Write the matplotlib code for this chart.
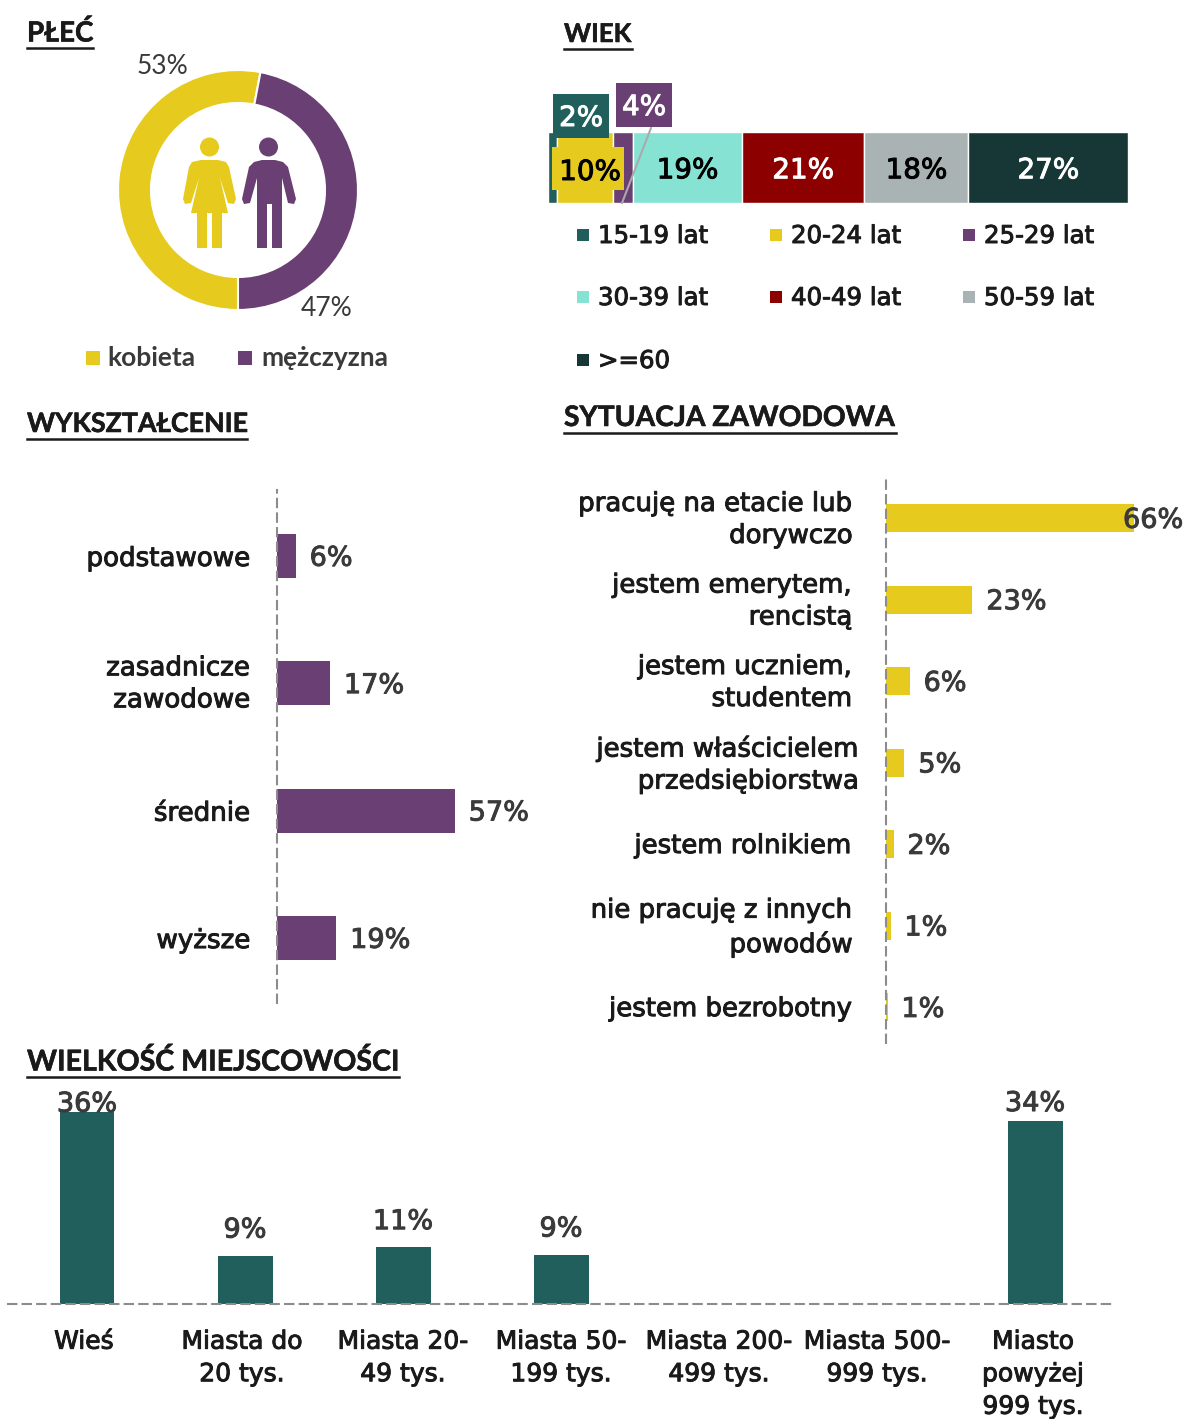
import matplotlib
matplotlib.use('Agg')
import matplotlib.pyplot as plt
import matplotlib.patheffects as pe
from matplotlib.patches import Circle, Polygon, Rectangle
from matplotlib.transforms import ScaledTranslation

W, H = 1186, 1419

YELLOW = '#E6CB1E'
PURPLE = '#6A3F73'
TEAL = '#215F5D'
DASH = '#8C8C8C'
DARK = '#1A1A1A'
GREY_TEXT = '#3A3A3A'

sex_labels = ['kobieta', 'mężczyzna']
sex_values = [53, 47]

age_labels = ['15-19 lat', '20-24 lat', '25-29 lat', '30-39 lat', '40-49 lat', '50-59 lat', '>=60']
age_values = [1.5, 9.7, 3.4, 18.7, 21, 17.9, 27.4]
age_text = ['2%', '10%', '4%', '19%', '21%', '18%', '27%']
age_colors = [TEAL, YELLOW, PURPLE, '#86E3D3', '#8C0000', '#A9B3B3', '#173636']

edu_labels = ['podstawowe', 'zasadnicze\nzawodowe', 'średnie', 'wyższe']
edu_values = [6, 17, 57, 19]

job_labels = ['pracuję na etacie lub\ndorywczo', 'jestem emerytem,\nrencistą', 'jestem uczniem,\nstudentem',
              'jestem właścicielem\nprzedsiębiorstwa', 'jestem rolnikiem', 'nie pracuję z innych\npowodów',
              'jestem bezrobotny']
job_values = [66, 23, 6.3, 4.9, 2, 1.2, 0.4]
job_text = ['66%', '23%', '6%', '5%', '2%', '1%', '1%']

city_labels = ['Wieś', 'Miasta do\n20 tys.', 'Miasta 20-\n49 tys.', 'Miasta 50-\n199 tys.',
               'Miasta 200-\n499 tys.', 'Miasta 500-\n999 tys.', 'Miasto\npowyżej\n999 tys.']
city_values = [36, 9, 10.7, 9.2, 0, 0, 34.3]
city_text = ['36%', '9%', '11%', '9%', '', '', '34%']

plt.rcParams['font.family'] = ['Lato', 'DejaVu Sans']
GEO = dict(family=['DejaVu Sans'], color=DARK)

fig = plt.figure(figsize=(W / 100, H / 100), dpi=100, facecolor='white')


def panel(x0, y0, x1, y1):
    ''' axes from a pixel box, y measured from the top '''
    return fig.add_axes([x0 / W, 1 - y1 / H, (x1 - x0) / W, (y1 - y0) / H])


def heavy(texts, lw=0.7):
    ''' DejaVu regular is too thin against the original, thicken with a stroke '''
    for t in texts:
        t.set_path_effects([pe.withStroke(linewidth=lw, foreground=t.get_color())])


def nudge(label, dx, dy=0):
    ''' shift a tick label by dx, dy pixels (dy up) '''
    label.set_transform(label.get_transform() + ScaledTranslation(dx / 100, dy / 100, fig.dpi_scale_trans))


def dashed_spine(ax, side):
    for s in ['top', 'right', 'bottom', 'left']:
        ax.spines[s].set_visible(s == side)
    ax.spines[side].set_linestyle((0, (4, 3)))
    ax.spines[side].set_color(DASH)
    ax.spines[side].set_linewidth(1.5)
    ax.patch.set_alpha(0)


# overlay in pixel coords for titles, legends, icons
over = fig.add_axes([0, 0, 1, 1], zorder=5)
over.set_xlim(0, W)
over.set_ylim(H, 0)
over.axis('off')
over.patch.set_alpha(0)


def title(x, y, s, size=20):
    t = over.text(x, y, s, fontsize=size, weight='bold', color=DARK, va='center', ha='left')
    heavy([t], lw=0.4)
    box = t.get_window_extent(fig.canvas.get_renderer())
    over.plot([x, x + box.width], [y + 15, y + 15], color=DARK, lw=1.8)


title(27, 33, 'PŁEĆ')
title(564, 34, 'WIEK', 18.6)
title(27, 424, 'WYKSZTAŁCENIE', 19.3)
title(564, 418, 'SYTUACJA ZAWODOWA', 20.3)
title(27, 1062, 'WIELKOŚĆ MIEJSCOWOŚCI', 20.6)

# donut
ax = panel(118, 70, 358, 310)
ax.pie(sex_values, colors=[YELLOW, PURPLE], startangle=270, counterclock=False, radius=1,
       wedgeprops=dict(width=0.275, edgecolor='white', linewidth=1.5))
ax.set_xlim(-1, 1)
ax.set_ylim(-1, 1)
over.text(162, 67, '%d%%' % sex_values[0], fontsize=19, color=GREY_TEXT, ha='center', va='center')
over.text(327, 309, '%d%%' % sex_values[1], fontsize=19, color=GREY_TEXT, ha='center', va='center')

# people icons in the middle of the donut
over.add_patch(Circle((209.5, 147), 9.5, color=YELLOW, lw=0))
over.add_patch(Polygon([(201, 160), (218, 160), (226, 162), (229, 167), (236, 199), (234, 204), (228, 203),
                        (220, 178), (228, 213), (222, 213), (222, 248), (212, 248), (212, 213), (207, 213),
                        (207, 248), (197, 248), (197, 213), (191, 213), (199, 178), (191, 203), (185, 204),
                        (183, 199), (189, 167), (192, 162)], color=YELLOW, lw=0))
over.add_patch(Circle((268.5, 147), 9.5, color=PURPLE, lw=0))
over.add_patch(Polygon([(262, 160), (275, 160), (283, 162), (288, 167), (296, 199), (294, 204), (288, 203),
                        (282, 178), (282, 248), (272, 248), (272, 204), (267, 204), (267, 248), (257, 248),
                        (257, 178), (250, 203), (244, 204), (242, 199), (249, 167), (254, 162)],
                       color=PURPLE, lw=0))

for x_sq, x_txt, name, col in zip([93, 245], [107, 261], sex_labels, [YELLOW, PURPLE]):
    over.scatter([x_sq], [358], marker='s', s=88, color=col, lw=0)
    over.text(x_txt, 358, name, fontsize=19, weight='bold', color=GREY_TEXT, va='center')

# stacked age bar
ax = panel(548, 132, 1128, 203)
left = 0
text_colors = [None, None, None, 'black', 'white', 'black', 'white']
for i, (val, col) in enumerate(zip(age_values, age_colors)):
    ax.barh(0, val, left=left, height=1, color=col, edgecolor='white', linewidth=1)
    if i >= 3:
        heavy([ax.annotate(age_text[i], (left + val / 2, 0), xytext=(0, -2), textcoords='offset points',
                           ha='center', va='center', family=['DejaVu Sans'], fontsize=20,
                           color=text_colors[i])])
    left += val
ax.set_xlim(0, sum(age_values))
ax.set_ylim(-0.5, 0.5)
ax.axis('off')

over.plot([651, 622], [128, 203], color='#AAAAAA', lw=1.5, zorder=1)
over.add_patch(Rectangle((553, 94), 56, 44, color=TEAL, lw=0, zorder=2))
over.add_patch(Rectangle((616, 83), 56, 44, color=PURPLE, lw=0, zorder=2))
over.add_patch(Rectangle((552, 147), 72, 43, color=YELLOW, lw=0, zorder=3))
heavy([over.text(581, 118, age_text[0], fontsize=20, family=['DejaVu Sans'], color='white', ha='center',
                 va='center', zorder=4),
       over.text(644, 107, age_text[2], fontsize=20, family=['DejaVu Sans'], color='white', ha='center',
                 va='center', zorder=4),
       over.text(590, 172, age_text[1], fontsize=20, family=['DejaVu Sans'], color='black', ha='center',
                 va='center', zorder=4)])

legend_x = [583, 776, 969]
legend_y = [235, 297, 360]
for i, name in enumerate(age_labels):
    lx = legend_x[i % 3]
    ly = legend_y[i // 3]
    over.scatter([lx], [ly], marker='s', s=70, color=age_colors[i], lw=0)
    heavy([over.text(lx + 15, ly + 1, name, va='center', fontsize=17.6, **GEO)])

# education bars
ax = panel(277, 490, 540, 1003)
edu_pos = list(range(len(edu_values)))
bars = ax.barh(edu_pos, edu_values, height=0.346, color=PURPLE)
ax.set_xlim(0, 84.3)
ax.set_ylim(3.51, -0.518)
ax.set_yticks(edu_pos, edu_labels, ha='right', linespacing=1.3, fontsize=18.8, **GEO)
ax.tick_params(axis='y', length=0, pad=19)
ax.set_xticks([])
dashed_spine(ax, 'left')
heavy(ax.get_yticklabels())
nudge(ax.get_yticklabels()[1], 0, 5)
for pos, val in zip(edu_pos, edu_values):
    heavy([ax.annotate('%d%%' % val, (val, pos), xytext=(10, -2), textcoords='offset points', va='center',
                       family=['DejaVu Sans'], fontsize=19.5, color=GREY_TEXT, annotation_clip=False)])

# job situation bars
ax = panel(886, 477, 1186, 1043)
job_pos = list(range(len(job_values)))
bars = ax.barh(job_pos, job_values, height=0.344, color=YELLOW)
ax.set_xlim(0, 79.8)
ax.set_ylim(6.44, -0.503)
ax.set_yticks(job_pos, job_labels, ha='right', linespacing=1.3, fontsize=18.7, **GEO)
ax.tick_params(axis='y', length=0, pad=24)
ax.set_xticks([])
dashed_spine(ax, 'left')
heavy(ax.get_yticklabels())
for lab, dx in zip(ax.get_yticklabels(), [0, 0, 0, 7, 0, 0, 0]):
    nudge(lab, dx, 4 if '\n' in lab.get_text() else 1)
for pos, txt, val in zip(job_pos, job_text, job_values):
    pad = -8 if val > 60 else 10
    heavy([ax.annotate(txt, (val, pos), xytext=(pad, -2), textcoords='offset points', va='center',
                       family=['DejaVu Sans'], fontsize=19.5, color=GREY_TEXT, annotation_clip=False)])

# town size bars
ax = panel(8, 1090, 1115, 1304)
city_pos = list(range(len(city_values)))
bars = ax.bar(city_pos, city_values, width=0.348, color=TEAL)
ax.set_xlim(-0.5, 6.506)
ax.set_ylim(0, 40.15)
ax.set_xticks(city_pos, city_labels, linespacing=1.45, va='top', fontsize=18, **GEO)
ax.tick_params(axis='x', length=0, pad=18.5)
ax.set_yticks([])
dashed_spine(ax, 'bottom')
heavy(ax.get_xticklabels())
for lab, dx in zip(ax.get_xticklabels(), [-3, -3, 0, 0, 0, 0, -2]):
    nudge(lab, dx)
# first and last labels sit lower, touching their bars
city_pads = [-4, 9, 8.5, 9, 0, 0, 3]
for pos, val, txt, pad in zip(city_pos, city_values, city_text, city_pads):
    if txt:
        heavy([ax.annotate(txt, (pos, val), xytext=(0, pad), textcoords='offset points', ha='center',
                           va='bottom', family=['DejaVu Sans'], fontsize=19.5, color=GREY_TEXT,
                           annotation_clip=False, zorder=5)])

fig.savefig('out.png', dpi=100)
